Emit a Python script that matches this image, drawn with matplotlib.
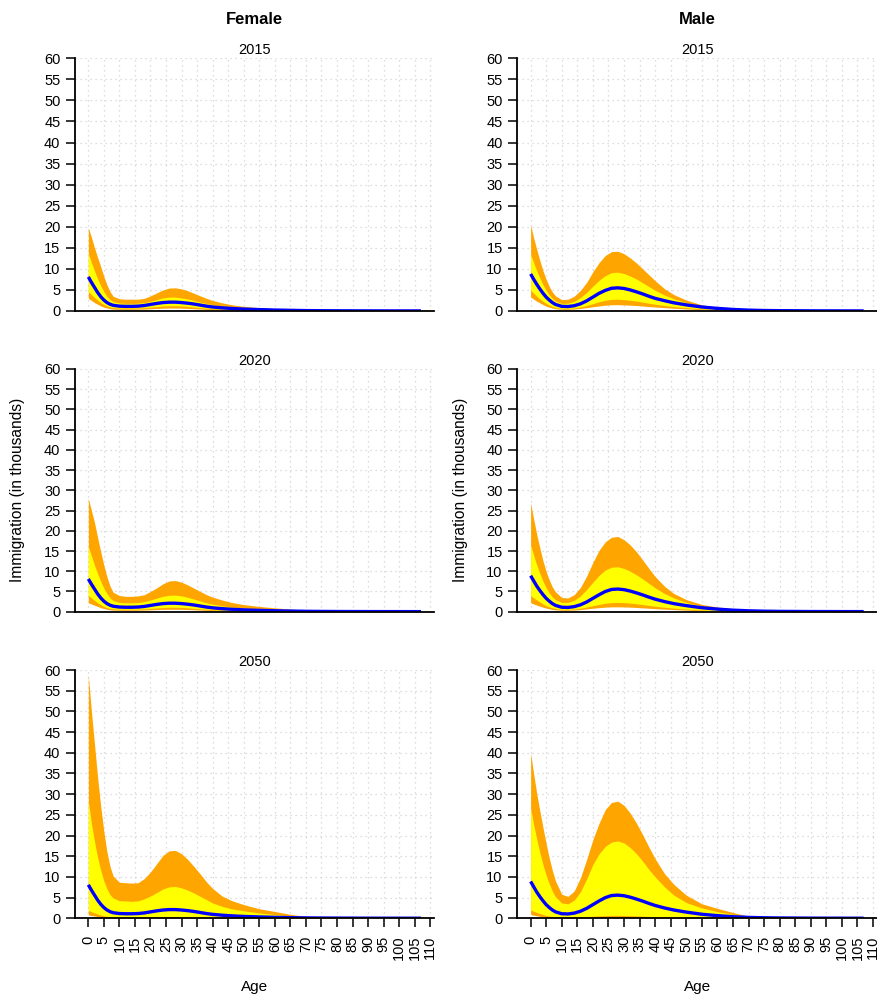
import matplotlib.pyplot as plt

plt.rcParams['font.family'] = ['Liberation Sans', 'DejaVu Sans']

ages = [0, 1, 2, 3, 4, 5, 6, 7, 8,
        10, 12, 14, 16, 18, 20, 22, 24, 26, 28, 30, 32, 34, 36, 38, 40,
        43, 46, 50, 55, 60, 65, 70, 75, 80, 90, 107]

# ---- Female 2015
f2015_med = [8.1, 6.8, 5.6, 4.4, 3.4, 2.6, 2.0, 1.6, 1.35,
             1.15, 1.1, 1.1, 1.15, 1.3, 1.55, 1.8, 2.0, 2.1, 2.1, 2.0, 1.85, 1.65, 1.4, 1.15, 0.95,
             0.75, 0.6, 0.45, 0.33, 0.23, 0.16, 0.1, 0.07, 0.05, 0.03, 0.02]
f2015_hi95 = [19.8, 17.5, 15.0, 12.7, 10.5, 8.2, 6.2, 4.6, 3.5,
              2.9, 2.8, 2.8, 2.8, 3.0, 3.6, 4.3, 5.0, 5.45, 5.5, 5.25, 4.8, 4.2, 3.6, 3.0, 2.5,
              1.95, 1.5, 1.1, 0.8, 0.55, 0.35, 0.2, 0.12, 0.08, 0.04, 0.02]
f2015_hi80 = [13.7, 11.5, 9.5, 7.6, 6.0, 4.6, 3.5, 2.7, 2.2,
              1.9, 1.8, 1.8, 1.85, 2.0, 2.3, 2.7, 3.1, 3.3, 3.3, 3.1, 2.85, 2.5, 2.1, 1.8, 1.5,
              1.15, 0.9, 0.68, 0.48, 0.3, 0.2, 0.13, 0.08, 0.05, 0.03, 0.015]
f2015_lo80 = [4.6, 3.9, 3.2, 2.6, 2.0, 1.55, 1.2, 0.95, 0.8,
              0.7, 0.7, 0.7, 0.72, 0.8, 0.92, 1.05, 1.18, 1.25, 1.25, 1.2, 1.1, 0.95, 0.8, 0.67, 0.55,
              0.43, 0.35, 0.27, 0.19, 0.12, 0.08, 0.05, 0.03, 0.02, 0.01, 0.005]
f2015_lo95 = [3.0, 2.5, 2.0, 1.6, 1.2, 0.9, 0.7, 0.55, 0.45,
              0.4, 0.4, 0.4, 0.42, 0.45, 0.52, 0.6, 0.66, 0.7, 0.7, 0.66, 0.6, 0.53, 0.45, 0.37, 0.3,
              0.24, 0.19, 0.14, 0.1, 0.06, 0.04, 0.03, 0.02, 0.01, 0.005, 0.003]

# ---- Male 2015
m2015_med = [8.8, 7.5, 6.3, 5.2, 4.2, 3.3, 2.6, 2.0, 1.55,
             1.1, 1.05, 1.25, 1.7, 2.4, 3.3, 4.2, 4.9, 5.4, 5.5, 5.35, 5.0, 4.55, 4.05, 3.5, 3.0,
             2.45, 1.95, 1.45, 0.95, 0.62, 0.37, 0.21, 0.12, 0.08, 0.04, 0.02]
m2015_hi95 = [20.4, 17.3, 14.5, 11.9, 9.5, 7.5, 5.8, 4.5, 3.6,
              2.7, 2.8, 3.5, 4.9, 6.8, 9.3, 11.5, 13.2, 14.1, 14.2, 13.6, 12.6, 11.4, 10.0, 8.6, 7.2,
              5.3, 3.9, 2.6, 1.45, 0.85, 0.5, 0.3, 0.18, 0.1, 0.05, 0.02]
m2015_hi80 = [13.5, 11.4, 9.5, 7.8, 6.2, 4.9, 3.8, 2.95, 2.35,
              1.8, 1.85, 2.3, 3.2, 4.4, 5.9, 7.3, 8.4, 9.1, 9.2, 8.9, 8.3, 7.6, 6.7, 5.8, 4.9,
              3.8, 2.9, 2.0, 1.2, 0.75, 0.45, 0.25, 0.15, 0.08, 0.04, 0.02]
m2015_lo80 = [5.0, 4.2, 3.5, 2.85, 2.3, 1.8, 1.4, 1.05, 0.82,
              0.6, 0.6, 0.72, 0.95, 1.3, 1.75, 2.2, 2.55, 2.75, 2.8, 2.7, 2.55, 2.35, 2.1, 1.85, 1.6,
              1.3, 1.05, 0.8, 0.5, 0.3, 0.18, 0.1, 0.06, 0.04, 0.02, 0.01]
m2015_lo95 = [3.3, 2.8, 2.3, 1.9, 1.5, 1.15, 0.9, 0.68, 0.52,
              0.4, 0.4, 0.46, 0.6, 0.8, 1.0, 1.2, 1.38, 1.48, 1.5, 1.45, 1.38, 1.3, 1.18, 1.05, 0.95,
              0.8, 0.65, 0.48, 0.3, 0.2, 0.12, 0.07, 0.04, 0.03, 0.015, 0.005]

# ---- Female 2020
f2020_med = [8.1, 6.8, 5.6, 4.4, 3.4, 2.6, 2.0, 1.6, 1.35,
             1.15, 1.1, 1.1, 1.15, 1.3, 1.55, 1.8, 2.0, 2.1, 2.1, 2.0, 1.85, 1.65, 1.4, 1.15, 0.95,
             0.75, 0.6, 0.45, 0.33, 0.23, 0.16, 0.1, 0.07, 0.05, 0.03, 0.02]
f2020_hi95 = [28.0, 25.0, 22.0, 18.3, 14.8, 11.5, 8.6, 6.3, 4.8,
              4.0, 3.8, 3.8, 3.9, 4.2, 5.0, 5.9, 6.9, 7.6, 7.7, 7.3, 6.6, 5.8, 5.0, 4.2, 3.6,
              2.9, 2.3, 1.75, 1.3, 0.95, 0.65, 0.4, 0.25, 0.15, 0.07, 0.03]
f2020_hi80 = [16.1, 13.8, 11.5, 9.4, 7.5, 5.8, 4.5, 3.4, 2.75,
              2.3, 2.2, 2.2, 2.25, 2.5, 2.9, 3.35, 3.8, 4.05, 4.1, 3.9, 3.55, 3.1, 2.65, 2.2, 1.85,
              1.45, 1.15, 0.88, 0.65, 0.45, 0.28, 0.18, 0.11, 0.07, 0.03, 0.015]
f2020_lo80 = [4.0, 3.4, 2.8, 2.2, 1.7, 1.3, 1.0, 0.82, 0.7,
              0.6, 0.6, 0.6, 0.62, 0.7, 0.8, 0.92, 1.03, 1.1, 1.1, 1.05, 0.95, 0.83, 0.7, 0.6, 0.5,
              0.4, 0.32, 0.24, 0.17, 0.11, 0.07, 0.045, 0.03, 0.02, 0.01, 0.005]
f2020_lo95 = [2.2, 1.9, 1.6, 1.3, 1.0, 0.78, 0.6, 0.48, 0.4,
              0.35, 0.35, 0.35, 0.36, 0.4, 0.46, 0.52, 0.57, 0.6, 0.6, 0.58, 0.53, 0.47, 0.4, 0.33, 0.28,
              0.22, 0.18, 0.13, 0.09, 0.06, 0.04, 0.025, 0.015, 0.01, 0.005, 0.003]

# ---- Male 2020
m2020_med = [8.9, 7.6, 6.3, 5.2, 4.2, 3.3, 2.6, 2.0, 1.55,
             1.1, 1.05, 1.25, 1.7, 2.4, 3.3, 4.2, 5.0, 5.5, 5.6, 5.45, 5.1, 4.65, 4.15, 3.6, 3.1,
             2.5, 2.0, 1.5, 0.98, 0.64, 0.38, 0.22, 0.13, 0.08, 0.04, 0.02]
m2020_hi95 = [26.8, 22.8, 19.0, 15.6, 12.5, 9.9, 7.8, 6.1, 4.9,
              3.5, 3.4, 4.2, 6.0, 8.8, 12.2, 15.2, 17.3, 18.4, 18.6, 17.8, 16.5, 14.8, 12.8, 10.7, 8.7,
              6.3, 4.5, 3.0, 1.8, 1.15, 0.7, 0.4, 0.22, 0.12, 0.05, 0.02]
m2020_hi80 = [16.5, 13.9, 11.5, 9.4, 7.5, 5.9, 4.6, 3.6, 2.95,
              2.3, 2.3, 2.8, 3.9, 5.5, 7.3, 9.0, 10.3, 11.0, 11.1, 10.7, 10.0, 9.1, 8.1, 7.0, 5.9,
              4.5, 3.4, 2.3, 1.4, 0.9, 0.55, 0.3, 0.17, 0.1, 0.04, 0.02]
m2020_lo80 = [4.0, 3.4, 2.9, 2.4, 1.9, 1.5, 1.2, 0.95, 0.77,
              0.55, 0.55, 0.65, 0.85, 1.15, 1.5, 1.8, 2.1, 2.25, 2.3, 2.25, 2.12, 1.95, 1.75, 1.55, 1.35,
              1.1, 0.88, 0.65, 0.42, 0.26, 0.15, 0.09, 0.05, 0.03, 0.015, 0.008]
m2020_lo95 = [2.2, 1.9, 1.6, 1.35, 1.1, 0.88, 0.7, 0.56, 0.46,
              0.35, 0.35, 0.4, 0.52, 0.68, 0.85, 1.0, 1.12, 1.2, 1.2, 1.18, 1.12, 1.04, 0.95, 0.85, 0.75,
              0.63, 0.52, 0.38, 0.25, 0.15, 0.09, 0.05, 0.03, 0.02, 0.01, 0.005]

# ---- Female 2050
f2050_med = [8.1, 6.8, 5.6, 4.4, 3.4, 2.6, 2.0, 1.6, 1.35,
             1.15, 1.1, 1.1, 1.15, 1.3, 1.55, 1.8, 2.0, 2.1, 2.1, 2.0, 1.85, 1.65, 1.4, 1.15, 0.95,
             0.75, 0.6, 0.45, 0.33, 0.23, 0.16, 0.1, 0.07, 0.05, 0.03, 0.02]
f2050_hi95 = [58.8, 50.0, 42.0, 34.0, 27.0, 21.0, 16.0, 12.5, 10.2,
              8.7, 8.6, 8.5, 8.6, 9.6, 11.2, 13.2, 15.2, 16.3, 16.4, 15.6, 14.2, 12.5, 10.7, 8.8, 7.2,
              5.4, 4.3, 3.3, 2.3, 1.65, 0.95, 0.45, 0.2, 0.1, 0.04, 0.02]
f2050_hi80 = [28.3, 23.0, 18.5, 14.7, 11.6, 9.0, 7.1, 5.7, 4.9,
              4.25, 4.2, 4.1, 4.2, 4.7, 5.4, 6.2, 7.1, 7.6, 7.7, 7.35, 6.8, 6.1, 5.3, 4.5, 3.7,
              2.9, 2.3, 1.8, 1.3, 0.9, 0.55, 0.28, 0.13, 0.07, 0.03, 0.015]
f2050_lo80 = [1.9, 1.6, 1.3, 1.05, 0.8, 0.6, 0.45, 0.36, 0.3,
              0.25, 0.25, 0.25, 0.26, 0.28, 0.32, 0.36, 0.4, 0.42, 0.42, 0.4, 0.37, 0.33, 0.28, 0.24, 0.2,
              0.16, 0.13, 0.1, 0.07, 0.045, 0.03, 0.02, 0.012, 0.008, 0.004, 0.002]
f2050_lo95 = [0.8, 0.67, 0.55, 0.42, 0.3, 0.23, 0.18, 0.14, 0.12,
              0.1, 0.1, 0.1, 0.1, 0.11, 0.12, 0.14, 0.15, 0.16, 0.16, 0.15, 0.14, 0.12, 0.1, 0.09, 0.07,
              0.06, 0.05, 0.04, 0.03, 0.015, 0.01, 0.007, 0.004, 0.003, 0.002, 0.001]

# ---- Male 2050
m2050_med = [8.9, 7.6, 6.3, 5.2, 4.2, 3.3, 2.6, 2.0, 1.55,
             1.1, 1.05, 1.25, 1.7, 2.4, 3.3, 4.2, 5.0, 5.5, 5.6, 5.45, 5.1, 4.65, 4.15, 3.6, 3.1,
             2.5, 2.0, 1.5, 0.98, 0.64, 0.38, 0.22, 0.13, 0.08, 0.04, 0.02]
m2050_hi95 = [39.9, 34.8, 30.0, 25.8, 21.8, 18.0, 14.5, 11.5, 9.0,
              5.8, 5.3, 6.6, 9.8, 14.2, 19.0, 23.0, 26.3, 28.0, 28.3, 27.3, 25.4, 23.0, 20.2, 17.2, 14.4,
              10.8, 8.2, 5.6, 3.5, 2.4, 1.4, 0.5, 0.25, 0.12, 0.05, 0.02]
m2050_hi80 = [26.6, 22.6, 19.0, 15.8, 12.9, 10.4, 8.3, 6.5, 5.2,
              3.7, 3.5, 4.4, 6.4, 9.5, 13.0, 15.6, 17.4, 18.4, 18.7, 18.2, 17.1, 15.6, 13.8, 11.8, 10.0,
              7.6, 5.6, 3.8, 2.5, 1.6, 0.95, 0.45, 0.2, 0.1, 0.04, 0.02]
m2050_lo80 = [2.0, 1.7, 1.4, 1.15, 0.9, 0.7, 0.55, 0.44, 0.36,
              0.26, 0.25, 0.28, 0.34, 0.42, 0.5, 0.58, 0.65, 0.69, 0.7, 0.68, 0.64, 0.59, 0.53, 0.46, 0.4,
              0.33, 0.27, 0.2, 0.13, 0.08, 0.05, 0.03, 0.015, 0.01, 0.005, 0.002]
m2050_lo95 = [0.9, 0.75, 0.6, 0.47, 0.36, 0.27, 0.2, 0.15, 0.12,
              0.08, 0.08, 0.09, 0.11, 0.14, 0.16, 0.18, 0.2, 0.22, 0.22, 0.21, 0.2, 0.18, 0.16, 0.14, 0.12,
              0.1, 0.08, 0.06, 0.04, 0.025, 0.015, 0.01, 0.005, 0.003, 0.002, 0.001]

panels = {
    ('Female', '2015'): (f2015_med, f2015_lo80, f2015_hi80, f2015_lo95, f2015_hi95),
    ('Male', '2015'): (m2015_med, m2015_lo80, m2015_hi80, m2015_lo95, m2015_hi95),
    ('Female', '2020'): (f2020_med, f2020_lo80, f2020_hi80, f2020_lo95, f2020_hi95),
    ('Male', '2020'): (m2020_med, m2020_lo80, m2020_hi80, m2020_lo95, m2020_hi95),
    ('Female', '2050'): (f2050_med, f2050_lo80, f2050_hi80, f2050_lo95, f2050_hi95),
    ('Male', '2050'): (m2050_med, m2050_lo80, m2050_hi80, m2050_lo95, m2050_hi95),
}

W, H = 877, 996
fig = plt.figure(figsize=(W / 100, H / 100), dpi=100)

# panel boxes in pixels: columns (left, right), rows (top, bottom)
cols = {'Female': (75, 434.3), 'Male': (517.3, 877)}
rows = {'2015': (58.3, 311), '2020': (369, 611.7), '2050': (670, 918.3)}

for (sex, yr), (med, lo80, hi80, lo95, hi95) in panels.items():
    x0, x1 = cols[sex]
    top, bot = rows[yr]
    ax = fig.add_axes([x0 / W, 1 - bot / H, (x1 - x0) / W, (bot - top) / H])
    ax.fill_between(ages, lo95, hi95, color='#FFA500', lw=0, zorder=2)
    ax.fill_between(ages, lo80, hi80, color='#FFFF00', lw=0, zorder=3)
    ax.plot(ages, med, color='#0000FF', lw=2.4, zorder=4, solid_capstyle='butt')

    ax.set_xlim(-4.28, 111.28)
    ax.set_ylim(0, 60)
    ax.set_xticks(range(0, 111, 5))
    ax.set_yticks(range(0, 61, 5))
    ax.grid(True, color='#D3D3D3', linestyle=(0, (1, 3)), linewidth=0.9, zorder=1)
    ax.set_axisbelow(True)

    for s in ['top', 'right']:
        ax.spines[s].set_visible(False)
    for s in ['left', 'bottom']:
        ax.spines[s].set_linewidth(1.3)
        ax.spines[s].set_zorder(5)

    ax.tick_params(axis='y', direction='out', length=6.5, width=1.1, pad=4, labelsize=10.5)
    if yr == '2050':
        ax.tick_params(axis='x', direction='out', length=6.5, width=1.1, pad=6,
                       labelsize=10.5, labelrotation=90)
        ax.set_xticklabels([str(a) for a in range(0, 111, 5)])
    else:
        ax.tick_params(axis='x', bottom=False, labelbottom=False)

    xc = (x0 + x1) / 2
    fig.text(xc / W, 1 - (top - 8.5) / H, yr, ha='center', va='center', fontsize=10.5)

for sex, (x0, x1) in cols.items():
    xc = (x0 + x1) / 2
    fig.text(xc / W, 1 - 20 / H, sex, ha='center', va='center', fontsize=12, fontweight='bold')
    fig.text(xc / W, 1 - 986.5 / H, 'Age', ha='center', va='center', fontsize=11)

for xl in [18, 460]:
    fig.text(xl / W, 1 - 490 / H, 'Immigration (in thousands)', rotation=90,
             ha='center', va='center', fontsize=11.2)

fig.savefig('out.png', dpi=100)
